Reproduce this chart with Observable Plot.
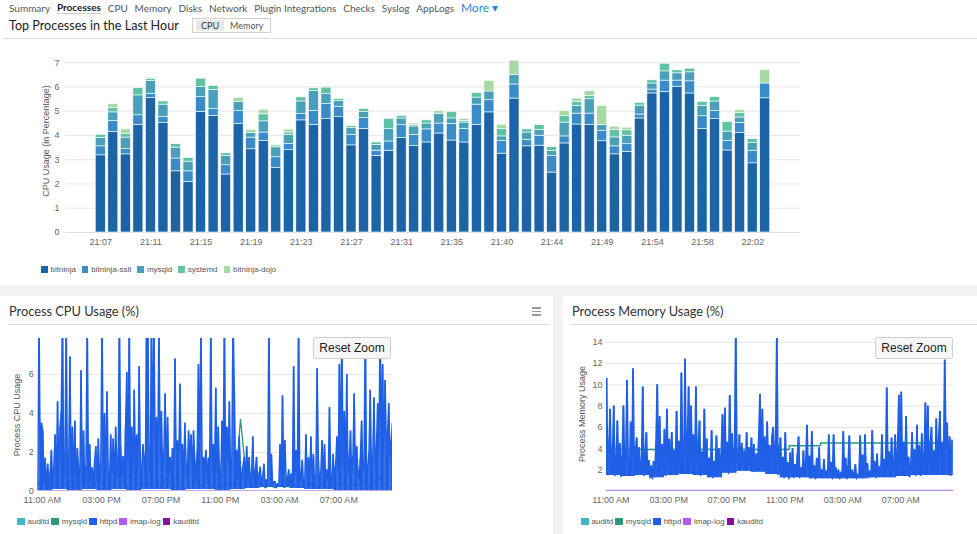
<!DOCTYPE html>
<html>
<head>
<meta charset="utf-8">
<title>Processes</title>
<script src="https://cdn.jsdelivr.net/npm/d3@7"></script>
<script src="https://cdn.jsdelivr.net/npm/@observablehq/plot@0.6"></script>
<style>
  html, body { margin: 0; padding: 0; background: #fff; }
  #page { position: relative; width: 977px; height: 534px; overflow: hidden; background: #f3f3f3; font-family: Lato, "Open Sans", sans-serif; color: #333; }
  .abs { position: absolute; }
  #topPanel { left: 0; top: 0; width: 977px; height: 285px; background: #fff; }
  .panel { position: absolute; background: #fff; top: 296px; height: 238px; }
  #nav { left: 9px; top: 0; height: 15px; display: flex; align-items: center; font-size: 10px; color: #555; white-space: nowrap; }
  #nav span { margin-right: 6.8px; }
  #nav .active { font-weight: bold; color: #222; border-bottom: 1px solid #ccc; }
  #nav .more { color: #2b87d8; font-size: 12px; }
  #heading { left: 9px; top: 17px; font-size: 12.6px; color: #222; line-height: 17px; white-space: nowrap; }
  #toggle { left: 192px; top: 18px; width: 79px; height: 15px; border: 1px solid #d0d0d0; box-sizing: border-box; font-size: 9px; display: flex; align-items: center; color: #555; }
  #toggle .on { background: #e8e8e8; margin-left: 3px; padding: 0 5px; height: 11px; line-height: 11px; color: #333; }
  #toggle .off { padding: 0 6px; }
  .rule { position: absolute; height: 1px; background: #dcdcdc; }
  .ptitle { position: absolute; top: 303px; font-size: 12.8px; color: #333; white-space: nowrap; line-height: 16px; }
  .ytitle { position: absolute; font-family: "Liberation Sans", Arial, sans-serif; font-size: 9px; color: #555; white-space: nowrap; transform: translate(-50%, -50%) rotate(-90deg); }
  .legend { position: absolute; display: flex; align-items: center; font-family: "Liberation Sans", Arial, sans-serif; font-size: 8px; color: #555; white-space: nowrap; }
  .legend .sw { display: inline-block; margin-right: 3px; }
  .reset { position: absolute; width: 78px; height: 22px; box-sizing: border-box; background: #f7f7f7; border: 1px solid #cfcfcf; border-radius: 2px; font-family: "Liberation Sans", Arial, sans-serif; font-size: 12px; color: #222; text-align: center; line-height: 20px; }
  .burger { position: absolute; left: 532px; top: 307px; width: 9px; }
  .burger i { display: block; height: 1.5px; background: #999; margin-bottom: 2px; }
  svg { overflow: visible; }
</style>
</head>
<body>
<div id="page">
  <div id="topPanel" class="abs"></div>
  <div id="nav" class="abs">
    <span>Summary</span><span class="active">Processes</span><span>CPU</span><span>Memory</span><span>Disks</span><span>Network</span><span>Plugin Integrations</span><span>Checks</span><span>Syslog</span><span>AppLogs</span><span class="more">More &#9662;</span>
  </div>
  <div id="heading" class="abs">Top Processes in the Last Hour</div>
  <div id="toggle" class="abs"><span class="on">CPU</span><span class="off">Memory</span></div>
  <div class="rule" style="left:2px;top:38px;width:975px;"></div>
  <div class="ytitle" style="left:46px;top:141px;">CPU Usage (in Percentage)</div>
  <div id="barChart" class="abs" style="left:0;top:45px;"></div>
  <div id="barLegend" class="legend" style="left:41px;top:265px;"></div>

  <div class="panel" style="left:0;width:553px;"></div>
  <div class="panel" style="left:563px;width:414px;"></div>
  <div class="ptitle" style="left:9px;">Process CPU Usage (%)</div>
  <div class="burger"><i></i><i></i><i></i></div>
  <div class="rule" style="left:8px;top:324px;width:541px;"></div>
  <div class="ptitle" style="left:572px;">Process Memory Usage (%)</div>
  <div class="rule" style="left:571px;top:324px;width:406px;"></div>

  <div class="ytitle" style="left:17px;top:415px;">Process CPU Usage</div>
  <div id="cpuChart" class="abs" style="left:0;top:330px;"></div>
  <div class="reset" style="left:313px;top:337px;">Reset Zoom</div>
  <div id="cpuLegend" class="legend" style="left:17px;top:517px;"></div>

  <div class="ytitle" style="left:582px;top:414px;">Process Memory Usage</div>
  <div id="memChart" class="abs" style="left:560px;top:330px;"></div>
  <div class="reset" style="left:875px;top:337px;">Reset Zoom</div>
  <div id="memLegend" class="legend" style="left:581px;top:517px;"></div>
</div>
<script>
// ---------- Top processes in the last hour: stacked CPU % per minute ----------
const minutes = ["21:07","21:08","21:09","21:10","21:11","21:12","21:13","21:14","21:15","21:16","21:17","21:18",
  "21:19","21:20","21:21","21:22","21:23","21:24","21:25","21:26","21:27","21:28","21:29","21:30","21:31","21:32",
  "21:33","21:34","21:35","21:36","21:37","21:38","21:40","21:41","21:42","21:43","21:44","21:45","21:46","21:47",
  "21:49","21:50","21:51","21:52","21:54","21:55","21:56","21:57","21:58","21:59","22:00","22:01","22:02","22:03"];
const minuteTicks = ["21:07","21:11","21:15","21:19","21:23","21:27","21:31","21:35","21:40","21:44","21:49","21:54","21:58","22:02"];
const processes = ["bitninja", "bitninja-sslt", "mysqld", "systemd", "bitninja-dojo"];
const processColors = ["#1c64a6", "#3a8cc9", "#4aa0b8", "#5ec3a4", "#a6d9a4"];

const cpuBitninja = [3.18,4.14,3.22,4.43,5.54,4.51,2.52,2.09,4.97,4.81,2.39,4.47,3.43,3.77,2.65,3.39,4.62,4.43,
  4.67,4.75,3.59,4.27,3.16,3.37,3.90,3.56,3.71,4.08,3.79,3.71,4.44,4.95,3.25,5.52,3.55,3.58,2.47,3.67,4.45,4.44,
  3.76,3.22,3.32,4.70,5.73,5.79,6.01,5.73,4.26,4.67,3.38,4.11,2.85,5.53];
const cpuBitninjaSslt = [0.37,0.46,0.22,0.40,0.18,0.26,0.53,0.43,0.61,0.27,0.38,0.53,0.48,0.35,0.45,0.25,0.26,0.58,
  0.62,0.43,0.43,0.45,0.21,0.38,0.52,0.46,0.54,0.41,0.68,0.55,0.83,0.50,0.52,0.58,0.26,0.41,0.68,0.29,0.45,0.46,
  0.42,0.33,0.32,0.16,0.16,0.47,0.25,0.50,0.53,0.34,0.39,0.41,0.52,0.61];
const cpuMysqldTop = [0.35,0.35,0.47,0.82,0.52,0.50,0.45,0.40,0.42,0.80,0.38,0.37,0.19,0.46,0.41,0.38,0.52,0.83,
  0.41,0.24,0.28,0.24,0.24,0.51,0.28,0.35,0.24,0.40,0.23,0.27,0.29,0.36,0.19,0.39,0.31,0.24,0.21,0.57,0.32,0.59,
  0.24,0.37,0.35,0.37,0.25,0.38,0.30,0.37,0.43,0.39,0.39,0.22,0.31,0];
const cpuSystemd = [0.13,0.18,0.16,0.30,0.09,0.13,0.14,0.15,0.34,0.16,0.11,0,0,0.29,0,0.10,0.17,0.10,
  0.27,0.08,0.08,0.13,0.10,0.42,0.10,0.05,0.13,0,0.27,0.07,0.18,0,0.30,0,0.13,0.19,0.16,0.28,0.16,0.14,
  0,0.31,0.22,0.11,0.13,0.31,0.12,0.15,0.16,0.18,0.40,0.18,0.17,0];
const cpuBitninjaDojo = [0,0.16,0.18,0,0.05,0,0,0,0,0,0,0.18,0.12,0.19,0.10,0.12,0,0,
  0,0,0,0,0,0,0,0.07,0,0.12,0,0.08,0,0.44,0.18,0.59,0,0,0,0.19,0.14,0.19,
  0.79,0.13,0.11,0,0,0,0,0,0,0,0,0.12,0,0.56];

// ---------- 24h process series, sampled every 5 minutes from 10:42 ----------
const sampleStart = new Date(2019, 5, 10, 10, 42);
const sampleEnd = new Date(2019, 5, 11, 10, 37);
const hourTicks = [new Date(2019, 5, 10, 11), new Date(2019, 5, 10, 15), new Date(2019, 5, 10, 19),
  new Date(2019, 5, 10, 23), new Date(2019, 5, 11, 3), new Date(2019, 5, 11, 7)];
const lineNames = ["auditd", "mysqld", "httpd", "imap-log", "kauditd"];
const lineColors = ["#3fb8c4", "#2b9a7c", "#1f5fe6", "#b05cf0", "#8a0ca3"];

// httpd CPU %, one row per hour (12 samples)
const httpdCpu = [
  0.8, 9, 1.2, 3.5, 3.1, 0.3, 1.7, 0.2, 1.4, 0.1, 1.0, 2.1,
  0.4, 1.3, 2.9, 0.3, 4.6, 0.6, 3.3, 4.1, 9, 0.5, 1.5, 9,
  0.3, 1.2, 6.9, 0.4, 3.3, 0.6, 3.6, 0.2, 2.2, 1.1, 0.3, 6.2,
  0.5, 3.1, 0.2, 1.3, 9, 0.6, 2.4, 0.3, 1.2, 0.4, 1.6, 2.3,
  0.3, 2.7, 0.5, 1.4, 9, 0.7, 4.0, 0.4, 5.1, 1.0, 0.3, 2.9,
  0.6, 2.7, 0.4, 3.3, 1.5, 0.5, 9, 2.35, 0.7, 1.8, 0.4, 3.3,
  6.1, 0.8, 9, 1.2, 3.3, 0.6, 5.2, 1.4, 2.9, 0.7, 6.4, 1.3,
  0.9, 2.4, 1.7, 0.6, 9, 9, 1.5, 0.8, 9, 1.9, 9, 1.2,
  3.8, 0.9, 9, 1.6, 4.1, 0.8, 2.0, 5.0, 1.1, 3.8, 0.7, 1.75,
  1.0, 2.2, 0.6, 6.8, 1.3, 2.6, 0.9, 5.5, 1.5, 2.4, 0.8, 3.5,
  1.4, 0.7, 3.1, 1.8, 2.9, 0.9, 3.1, 1.6, 0.6, 2.0, 6.5, 1.2,
  9, 0.8, 1.75, 1.3, 2.1, 0.5, 1.7, 1.0, 9, 0.7, 2.4, 1.1,
  5.3, 0.6, 3.3, 1.0, 0.4, 3.6, 1.2, 9, 0.5, 3.3, 1.4, 4.6,
  0.8, 1.5, 9, 5.2, 0.7, 2.1, 0.4, 2.8, 1.2, 0.5, 1.3, 1.75,
  0.3, 2.3, 0.6, 1.75, 0.4, 1.0, 2.8, 0.3, 1.1, 1.75, 0.4, 0.9,
  1.25, 0.3, 0.8, 1.4, 0.2, 0.6, 0.3, 9, 0.4, 1.9, 0.3, 0.5,
  0.5, 0.2, 0.4, 0.3, 2.4, 0.5, 4.9, 0.6, 2.6, 0.3, 0.7, 1.1,
  0.3, 0.9, 0.2, 6.4, 0.6, 2.1, 0.3, 9, 0.4, 0.8, 1.6, 0.3,
  0.5, 2.9, 0.3, 1.75, 0.6, 2.8, 0.4, 1.9, 0.3, 0.8, 6.3, 1.6,
  0.4, 1.0, 2.6, 0.5, 2.4, 0.3, 1.1, 0.6, 4.3, 0.8, 0.4, 1.9,
  0.6, 1.3, 2.8, 0.7, 6.5, 1.0, 9, 0.9, 4.1, 1.2, 6.0, 0.8,
  1.5, 3.1, 0.7, 1.8, 5.0, 0.9, 2.3, 1.1, 0.6, 1.7, 3.6, 1.0,
  1.4, 9, 0.5, 1.25, 2.0, 5.2, 0.9, 1.6, 4.8, 1.2, 2.2, 4.5,
  1.8, 9, 2.5, 6.5, 1.9, 5.7, 2.4, 3.0, 4.5, 1.6, 2.6, 3.5
];
// lowest httpd CPU % reached within each hour
const httpdCpuFloor = [0.05, 0.1, 0.05, 0.1, 0.05, 0.1, 0.05, 0.1, 0.1, 0.05, 0.1, 0.1,
  0.05, 0.1, 0.15, 0.2, 0.2, 0.15, 0.1, 0.1, 0.05, 0.05, 0.05, 0.05];
// mysqld CPU %, every 20 minutes
const mysqldCpu = [
  0.4, 0.6, 0.3, 0.2, 0.5, 0.3, 0.4, 0.2, 0.3, 0.6, 0.3, 0.2,
  0.3, 0.5, 0.2, 0.4, 0.3, 0.6, 0.2, 0.3, 0.4, 0.3, 0.5, 0.2,
  0.4, 0.3, 0.7, 0.4, 0.3, 0.5, 0.9, 2.6, 0.4, 0.3, 0.5, 0.2,
  0.3, 0.2, 0.4, 0.3, 0.5, 3.7, 1.2, 0.3, 0.2, 0.4, 0.2, 0.3,
  0.2, 0.3, 0.2, 0.4, 0.3, 0.2, 0.3, 0.5, 0.2, 0.3, 0.4, 0.2,
  0.3, 0.5, 0.3, 0.2, 0.4, 0.3, 0.6, 0.3, 0.4, 0.7, 0.5, 0.3
];
const auditdCpu = [0.01, 0.01];
const imapLogCpu = [0.03, 0.03];
const kauditdCpu = [0, 0];

// httpd memory %, one row per hour (12 samples)
const httpdMem = [
  10.6, 1.6, 4.2, 7.7, 1.8, 3.5, 8.0, 1.5, 2.8, 6.6, 1.7, 4.5,
  1.4, 3.3, 8.0, 1.9, 3.6, 10.4, 2.2, 1.5, 6.5, 2.0, 11.5, 1.8,
  3.9, 5.0, 1.6, 4.1, 1.9, 2.6, 9.8, 1.5, 3.4, 5.5, 1.7, 2.9,
  1.3, 2.4, 1.2, 2.8, 1.4, 4.6, 10.0, 2.1, 7.0, 1.6, 4.4, 2.0,
  5.8, 1.5, 7.7, 2.3, 4.9, 1.6, 5.5, 1.9, 3.8, 1.7, 7.5, 2.4,
  4.7, 1.8, 11.1, 3.2, 1.7, 12.4, 2.6, 4.8, 9.8, 1.9, 8.0, 2.7,
  5.3, 1.6, 9.8, 2.2, 4.4, 6.6, 1.5, 3.7, 2.0, 7.7, 1.8, 4.9,
  1.4, 3.1, 1.7, 5.7, 1.3, 2.8, 1.6, 5.2, 2.1, 4.0, 1.5, 3.6,
  7.2, 2.3, 7.8, 2.0, 4.6, 1.7, 9.0, 2.5, 5.4, 1.9, 4.2, 14.8,
  3.1, 2.6, 5.3, 2.2, 4.5, 2.4, 3.8, 2.0, 5.5, 2.6, 4.1, 2.3,
  5.0, 2.1, 4.4, 1.9, 3.5, 2.3, 4.8, 9.1, 2.4, 7.7, 2.0, 5.1,
  1.8, 6.5, 2.6, 4.3, 1.7, 5.2, 6.0, 2.2, 4.6, 14.8, 1.6, 3.9,
  5.0, 1.4, 3.2, 1.3, 5.5, 1.5, 2.7, 1.2, 3.6, 1.4, 4.0, 1.3,
  2.5, 1.5, 3.4, 5.1, 1.3, 2.2, 1.6, 3.8, 1.4, 2.9, 6.2, 1.5,
  3.3, 1.3, 5.6, 1.5, 2.4, 1.2, 3.1, 1.6, 4.1, 1.4, 2.0, 1.3,
  3.0, 1.4, 1.9, 1.3, 5.3, 1.6, 2.7, 1.2, 5.3, 1.5, 2.2, 1.3,
  2.0, 1.2, 1.8, 1.3, 5.6, 1.5, 3.1, 1.2, 2.4, 5.2, 1.4, 2.0,
  1.3, 1.8, 2.5, 1.2, 1.6, 1.4, 5.2, 1.6, 3.4, 1.3, 5.3, 1.5,
  2.6, 1.3, 1.9, 1.4, 5.7, 1.6, 2.8, 1.3, 3.5, 1.4, 2.3, 1.5,
  5.3, 1.4, 3.0, 1.5, 9.7, 1.8, 3.7, 1.4, 5.0, 1.6, 2.9, 5.3,
  1.5, 4.1, 9.0, 1.7, 9.3, 2.0, 4.6, 1.5, 7.0, 1.8, 3.2, 1.4,
  2.7, 5.5, 1.6, 3.9, 1.5, 6.2, 1.7, 4.3, 1.5, 5.4, 1.8, 3.5,
  8.3, 1.9, 8.0, 2.2, 4.4, 6.0, 1.7, 3.8, 1.6, 6.8, 2.4, 4.9,
  7.5, 1.9, 4.6, 2.3, 12.3, 4.2, 6.4, 2.0, 5.1, 1.5, 4.8, 1.6
];
// lowest httpd memory % reached within each hour
const httpdMemFloor = [1.5, 1.4, 1.5, 1.3, 1.5, 1.6, 1.5, 1.3, 1.7, 1.9, 1.8, 1.6,
  1.3, 1.3, 1.2, 1.2, 1.2, 1.2, 1.3, 1.3, 1.4, 1.5, 1.5, 1.5];
// mysqld memory % holds level between these change times
const mysqldMemTimes = [new Date(2019, 5, 10, 10, 42), new Date(2019, 5, 10, 23, 18), new Date(2019, 5, 11, 1, 28), new Date(2019, 5, 11, 10, 37)];
const mysqldMem = [3.95, 4.3, 4.55, 4.55];
const auditdMem = [0.05, 0.05];
const imapLogMem = [0.1, 0.1];
const kauditdMem = [0.05, 0.05];

// ---------- helpers ----------
const every = (values, stepMin, floor) => values.map((v, i) => ({
  t: new Date(+sampleStart + i * stepMin * 60000), v,
  lo: floor ? Math.min(v, floor[Math.floor(i * stepMin / 60)]) : v
}));
const span = (values) => [{t: sampleStart, v: values[0]}, {t: sampleEnd, v: values[1]}];
const fmtHour = d3.timeFormat("%I:%M %p");
const axisFont = {fontFamily: "'Liberation Sans', Arial, sans-serif", fontSize: "9px", color: "#666", background: "transparent", overflow: "visible"};

function legend(id, names, colors, size) {
  const el = document.getElementById(id);
  names.forEach((n, i) => {
    const item = document.createElement("span");
    item.style.display = "inline-flex";
    item.style.alignItems = "center";
    item.style.marginRight = size.gap + "px";
    const sw = document.createElement("span");
    sw.className = "sw";
    sw.style.width = size.box + "px";
    sw.style.height = size.box + "px";
    sw.style.background = colors[i];
    item.appendChild(sw);
    item.appendChild(document.createTextNode(n));
    el.appendChild(item);
  });
}

// ---------- stacked bar chart ----------
const barSeries = [cpuBitninja, cpuBitninjaSslt, cpuMysqldTop, cpuSystemd, cpuBitninjaDojo];
const barRows = [];
barSeries.forEach((vals, k) => vals.forEach((v, i) => barRows.push({minute: minutes[i], process: processes[k], value: v})));

const barChart = Plot.plot({
  width: 800, height: 207,
  marginTop: 5, marginRight: 0, marginBottom: 20, marginLeft: 65,
  style: axisFont,
  x: {domain: minutes, range: [94, 771], paddingInner: 0.2, paddingOuter: 0.1, round: false, label: null},
  y: {domain: [0, 7.5], label: null},
  color: {domain: processes, range: processColors},
  marks: [
    Plot.gridY([1, 2, 3, 4, 5, 6, 7], {stroke: "#e6e6e6", strokeOpacity: 1}),
    Plot.ruleY([0], {stroke: "#d8dde6"}),
    Plot.axisY([0, 1, 2, 3, 4, 5, 6, 7], {tickSize: 0, tickPadding: 6, label: null}),
    Plot.axisX(minuteTicks, {tickSize: 0, tickPadding: 6, label: null}),
    Plot.barY(barRows, Plot.stackY({x: "minute", y: "value", fill: "process", order: processes, stroke: "#fff", strokeWidth: 0.6}))
  ]
});
document.getElementById("barChart").appendChild(barChart);
legend("barLegend", processes, processColors, {box: 6.5, gap: 6});

// ---------- line charts ----------
// dense series: each sample drawn as a min-to-value stroke plus the connecting line
function seriesMarks(s) {
  const marks = [];
  if (s.dense) marks.push(Plot.ruleX(s.data, {x: "t", y1: "lo", y2: "v", stroke: s.color, strokeWidth: s.width, clip: true}));
  marks.push(Plot.lineY(s.data, {x: "t", y: "v", stroke: s.color, strokeWidth: s.width, curve: s.curve || "linear", clip: true}));
  return marks;
}

function lineChart(cfg) {
  return Plot.plot({
    width: 400, height: 180,
    marginTop: 8, marginRight: cfg.marginRight, marginBottom: 19, marginLeft: cfg.marginLeft,
    style: axisFont,
    x: {type: "time", domain: [sampleStart, sampleEnd], label: null},
    y: {domain: cfg.yDomain, label: null},
    marks: [
      Plot.gridY(cfg.grid, {stroke: "#e6e6e6", strokeOpacity: 1}),
      Plot.axisY(cfg.yTicks, {tickSize: 0, tickPadding: 4, label: null}),
      Plot.axisX(hourTicks, {tickSize: 0, tickPadding: 5, tickFormat: fmtHour, label: null}),
      ...cfg.series.flatMap(seriesMarks)
    ]
  });
}

const cpuChart = lineChart({
  marginLeft: 37.3, marginRight: 8, yDomain: [0, 7.85], grid: [2, 4, 6], yTicks: [0, 2, 4, 6],
  series: [
    {data: span(kauditdCpu), color: lineColors[4], width: 1.5},
    {data: span(auditdCpu), color: lineColors[0], width: 1.5},
    {data: every(mysqldCpu, 20), color: lineColors[1], width: 1.3},
    {data: every(httpdCpu, 5, httpdCpuFloor), color: lineColors[2], width: 1.5, dense: true},
    {data: span(imapLogCpu), color: "#c9a6f2", width: 1.5}
  ]
});
document.getElementById("cpuChart").appendChild(cpuChart);

const memChart = lineChart({
  marginLeft: 46, marginRight: 7.3, yDomain: [0, 14.35], grid: [2, 4, 6, 8, 10, 12, 14], yTicks: [2, 4, 6, 8, 10, 12, 14],
  series: [
    {data: span(kauditdMem), color: lineColors[4], width: 1.5},
    {data: span(auditdMem), color: lineColors[0], width: 1.5},
    {data: mysqldMemTimes.map((t, i) => ({t, v: mysqldMem[i]})), color: lineColors[1], width: 1.5, curve: "step-after"},
    {data: every(httpdMem, 5, httpdMemFloor), color: lineColors[2], width: 1.7, dense: true},
    {data: span(imapLogMem), color: "#b98ef0", width: 1.5}
  ]
});
document.getElementById("memChart").appendChild(memChart);

legend("cpuLegend", lineNames, lineColors, {box: 7.5, gap: 2});
legend("memLegend", lineNames, lineColors, {box: 7.5, gap: 2});
</script>
</body>
</html>
